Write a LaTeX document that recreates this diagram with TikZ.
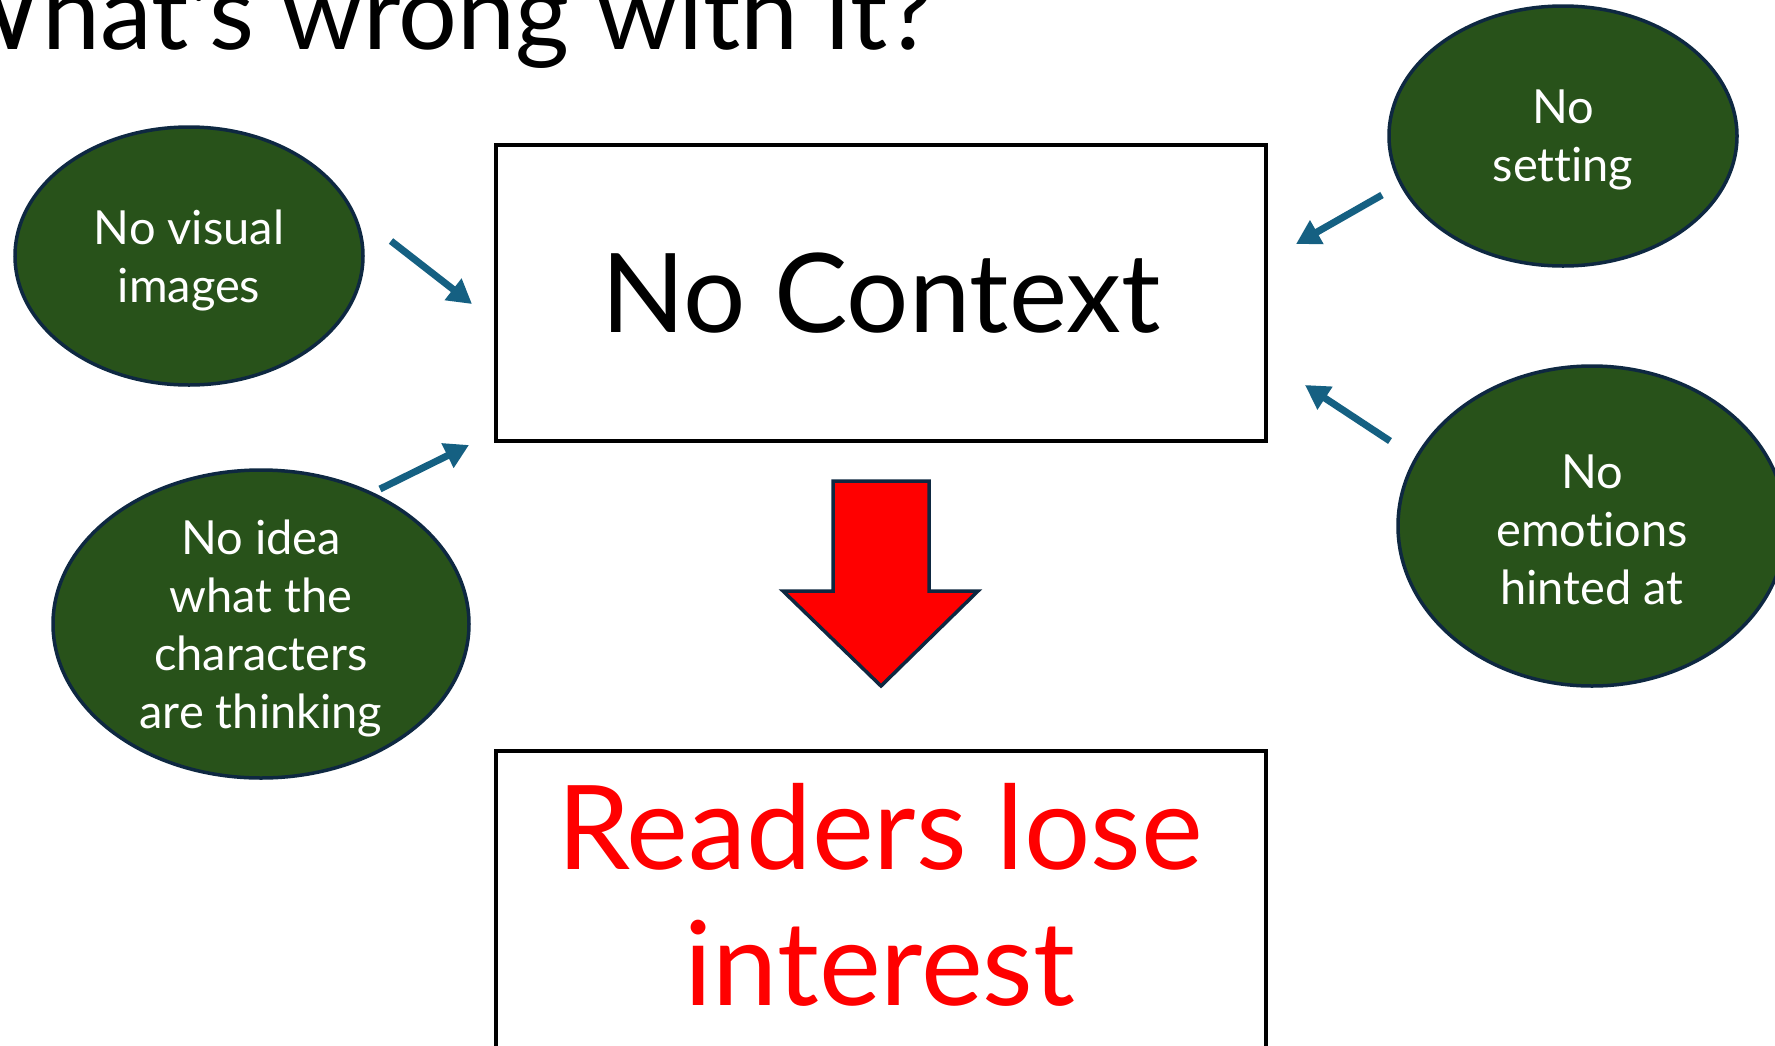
\documentclass[tikz,border=0pt]{standalone}
\usepackage{fontspec}
\setmainfont{Lato}[Ligatures={TeX,NoCommon}]
\usetikzlibrary{arrows.meta,shapes.geometric}
\definecolor{egreen}{HTML}{28521A}
\definecolor{edgeblue}{HTML}{0E2841}
\definecolor{ablue}{HTML}{156082}
\definecolor{bred}{HTML}{FF0000}
\begin{document}
\begin{tikzpicture}[x=1pt,y=-1pt,
  bubble/.style={ellipse, draw=edgeblue, line width=3.5pt, fill=egreen, inner sep=0pt},
  btext/.style={text=white, align=center, font=\fontsize{47}{58}\selectfont, inner sep=0pt},
  box/.style={draw=black, line width=3.5pt, fill=white, inner sep=0pt},
  link/.style={draw=ablue, line width=7pt, -{Triangle[length=24pt,width=26pt]}},
  bigtext/.style={font=\fontsize{110}{136}\selectfont, inner sep=0pt}]
\fill[white] (0,0) rectangle (1775,1045);
\useasboundingbox (0,0) rectangle (1775,1045);

% title
\node[anchor=base east, font=\fontsize{104}{120}\selectfont, inner sep=0pt] (title) at (934,49) {What\textquotesingle s wrong with it?};

% boxes
\node[box, minimum width=770, minimum height=296, bigtext] (ctx) at (881,293) {No Context};
\node[box, anchor=north, minimum width=770, minimum height=330] (res) at (881,749) {};
\node[bigtext, font=\fontsize{117}{136}\selectfont, text=bred, anchor=base] (rl1) at (880,869) {Readers lose};
\node[bigtext, font=\fontsize{117}{136}\selectfont, text=bred, anchor=base] (rl2) at (880,1005) {interest};

% red block arrow
\filldraw[fill=bred, draw=edgeblue, line width=3.5pt, line join=miter]
  (833,481) -- (929,481) -- (929,591) -- (978,591) -- (881,686) -- (783,591) -- (833,591) -- cycle;

% bubbles
\node[bubble, minimum width=348, minimum height=258] (vis) at (189,256) {};
\node[btext] (vist) at ([yshift=-4pt]vis.center) {No visual\\images};
\node[bubble, minimum width=416, minimum height=308] (idea) at (261,624) {};
\node[btext] (ideat) at ([yshift=-4pt]idea.center) {No idea\\what the\\characters\\are thinking};
\node[bubble, minimum width=348, minimum height=260] (set) at (1563,136) {};
\node[btext] (sett) at ([yshift=-4pt]set.center) {No\\setting};
\node[bubble, minimum width=388, minimum height=320] (emo) at (1592,526) {};
\node[btext] (emot) at ([yshift=-4pt]emo.center) {No\\emotions\\hinted at};

% connectors
\coordinate (a1s) at (391,241); \coordinate (a1e) at (472,304);
\coordinate (a2s) at (380,489); \coordinate (a2e) at (469,445);
\coordinate (a3s) at (1382,195); \coordinate (a3e) at (1296,244);
\coordinate (a4s) at (1390,441); \coordinate (a4e) at (1305,385);
\draw[link] (a1s) -- (a1e);
\draw[link] (a2s) -- (a2e);
\draw[link] (a3s) -- (a3e);
\draw[link] (a4s) -- (a4e);
\end{tikzpicture}
\end{document}
